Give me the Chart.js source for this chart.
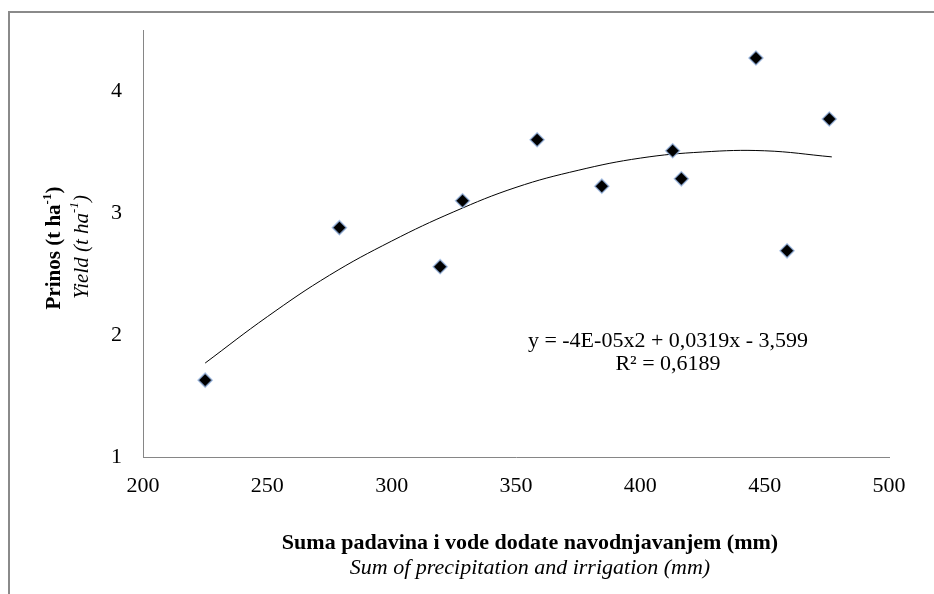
<!DOCTYPE html>
<html>
<head>
<meta charset="utf-8">
<script src="https://cdn.jsdelivr.net/npm/chart.js@4"></script>
<style>
  html, body { margin: 0; padding: 0; background: #fff; }
  #wrap { width: 934px; height: 594px; position: relative; }
</style>
</head>
<body>
<div id="wrap"><canvas id="yieldChart" width="934" height="594"></canvas></div>
<script>
// measured points: sum of precipitation + irrigation (mm) vs yield (t/ha)
const waterSum = [225, 279, 319.5, 328.5, 358.5, 384.5, 413, 416.5, 446.5, 459, 476];
const yieldVals = [1.63, 2.88, 2.56, 3.10, 3.60, 3.22, 3.51, 3.28, 4.27, 2.69, 3.77];

// polynomial trend line
const trendX = [225, 250, 275, 300, 325, 350, 375, 400, 425, 450, 477];
const trendY = [1.77, 2.15, 2.49, 2.77, 3.01, 3.21, 3.35, 3.45, 3.50, 3.51, 3.46];

const xTicks = [200, 250, 300, 350, 400, 450, 500];
const yTicks = [1, 2, 3, 4];

const equationText = "y = -4E-05x2 + 0,0319x - 3,599";
const r2Text = "R\u00b2 = 0,6189";

const serif = "'Liberation Serif', 'Times New Roman', serif";
const axisGrey = "#868686";

const labelsPlugin = {
  id: "labels",
  beforeDraw(chart) {
    const ctx = chart.ctx;
    ctx.save();
    ctx.strokeStyle = "#8a8a8a";
    ctx.lineWidth = 2;
    ctx.beginPath();
    ctx.moveTo(9, 594);
    ctx.lineTo(9, 12);
    ctx.lineTo(934, 12);
    ctx.stroke();
    ctx.restore();
  },
  afterDraw(chart) {
    const ctx = chart.ctx;
    ctx.save();
    ctx.fillStyle = "#000";
    ctx.textBaseline = "middle";

    // y axis title, two rotated lines
    const drawSup = (main, sup, tail, font, supFont, cx, cy) => {
      ctx.font = font;
      const w1 = ctx.measureText(main).width;
      const w3 = ctx.measureText(tail).width;
      ctx.font = supFont;
      const w2 = ctx.measureText(sup).width;
      let x = cx - (w1 + w2 + w3) / 2;
      ctx.font = font;
      ctx.textAlign = "left";
      ctx.fillText(main, x, cy);
      x += w1;
      ctx.font = supFont;
      ctx.fillText(sup, x, cy - 7);
      x += w2;
      ctx.font = font;
      ctx.fillText(tail, x, cy);
    };
    ctx.save();
    ctx.translate(55, 248);
    ctx.rotate(-Math.PI / 2);
    drawSup("Prinos (t ha", "-1", ")", "bold 21px " + serif, "bold 13px " + serif, 0, 0);
    ctx.restore();
    ctx.save();
    ctx.translate(82, 247);
    ctx.rotate(-Math.PI / 2);
    drawSup("Yield (t ha", "-1", ")", "italic 21px " + serif, "italic 13px " + serif, 0, 0);
    ctx.restore();

    // x axis title
    ctx.textAlign = "center";
    ctx.font = "bold 22px " + serif;
    ctx.fillText("Suma padavina i vode dodate navodnjavanjem (mm)", 530, 543);
    ctx.font = "italic 22px " + serif;
    ctx.fillText("Sum of precipitation and irrigation (mm)", 530, 568);

    // trend equation
    ctx.font = "22px " + serif;
    ctx.fillText(equationText, 668, 341);
    ctx.fillText(r2Text, 668, 364);
    ctx.restore();
  }
};

new Chart(document.getElementById("yieldChart").getContext("2d"), {
  type: "scatter",
  data: {
    datasets: [
      {
        label: "Prinos",
        data: waterSum.map((x, i) => ({ x: x, y: yieldVals[i] })),
        pointStyle: "rectRot",
        pointRadius: 7,
        pointHoverRadius: 7,
        backgroundColor: "#000",
        pointBorderColor: "rgba(150,180,225,0.75)",
        pointBorderWidth: 1.5,
        order: 1
      },
      {
        type: "line",
        label: "Trend",
        data: trendX.map((x, i) => ({ x: x, y: trendY[i] })),
        borderColor: "#000",
        borderWidth: 1,
        pointRadius: 0,
        fill: false,
        tension: 0.4,
        order: 2
      }
    ]
  },
  options: {
    responsive: false,
    animation: false,
    events: [],
    layout: { padding: { left: 0, top: 30, right: 45, bottom: 0 } },
    plugins: { legend: { display: false }, tooltip: { enabled: false } },
    scales: {
      x: {
        type: "linear",
        min: 200,
        max: 500,
        afterBuildTicks: (axis) => { axis.ticks = xTicks.map((v) => ({ value: v })); },
        afterFit: (axis) => { axis.height = 137; },
        grid: { display: false, drawTicks: true, tickLength: 6, tickColor: axisGrey },
        border: { color: axisGrey, width: 1 },
        ticks: { color: "#000", font: { family: serif, size: 22 }, padding: 10, maxRotation: 0 }
      },
      y: {
        type: "linear",
        min: 1,
        max: 4.5,
        afterBuildTicks: (axis) => { axis.ticks = yTicks.map((v) => ({ value: v })); },
        afterFit: (axis) => { axis.width = 143; },
        grid: { display: false, drawTicks: true, tickLength: 6, tickColor: axisGrey },
        border: { color: axisGrey, width: 1 },
        ticks: { color: "#000", font: { family: serif, size: 22 }, padding: 15 }
      }
    }
  },
  plugins: [labelsPlugin]
});
</script>
</body>
</html>
